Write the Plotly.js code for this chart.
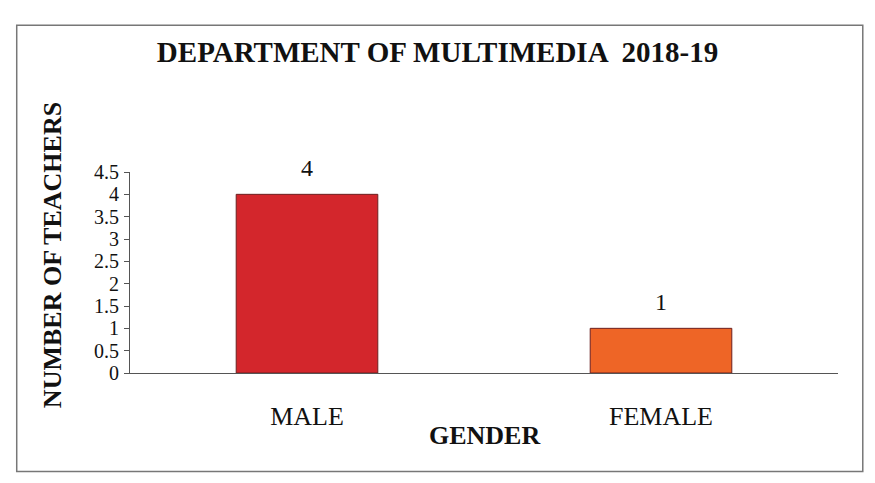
<!DOCTYPE html>
<html><head><meta charset="utf-8">
<script src="https://cdn.plot.ly/plotly-3.0.1.min.js"></script>
<style>html,body{margin:0;padding:0;background:#fff;}#chart{width:875px;height:483px;}</style>
</head><body><div id="chart"></div>
<script>
const categories = ["MALE", "FEMALE"];
const teachers = [4, 1];
const barColors = ["#d3262c", "#ee6526"];
const yTicks = [0, 0.5, 1, 1.5, 2, 2.5, 3, 3.5, 4, 4.5];

const serif = "Liberation Serif, Times New Roman, serif";
const data = [{
  type: "bar",
  x: categories,
  y: teachers,
  width: 0.4,
  marker: {color: barColors, line: {color: "#6b2020", width: 1}},
  hoverinfo: "skip"
}];

const valueLabels = categories.map((c, i) => ({
  text: String(teachers[i]), x: c, y: teachers[i], xref: "x", yref: "y",
  yshift: 26, showarrow: false, xanchor: "center", yanchor: "middle",
  font: {family: serif, size: 24, color: "#111"}
}));

const layout = {
  width: 875, height: 483,
  margin: {l: 130, r: 37, t: 172, b: 110},
  paper_bgcolor: "#fff", plot_bgcolor: "#fff",
  showlegend: false,
  title: {text: "<b>DEPARTMENT OF MULTIMEDIA  2018-19</b>", x: 0.5, xanchor: "center", xref: "container",
          y: 0.892, yanchor: "middle", font: {family: serif, size: 29, color: "#111"}},
  xaxis: {
    type: "category", range: [-0.5, 1.5],
    showline: true, linecolor: "#555", linewidth: 1,
    ticks: "", showgrid: false, zeroline: false,
    tickfont: {family: serif, size: 26, color: "#111"},
    ticklabelstandoff: 20
  },
  yaxis: {
    range: [0, 4.5], tickvals: yTicks, ticktext: yTicks.map(String),
    showline: true, linecolor: "#555", linewidth: 1,
    ticks: "outside", ticklen: 5, tickcolor: "#555",
    showgrid: false, zeroline: false,
    tickfont: {family: serif, size: 20, color: "#111"},
    ticklabelstandoff: 1
  },
  annotations: valueLabels.concat([
    {text: "<b>NUMBER OF TEACHERS</b>", xref: "paper", yref: "paper", x: -0.11, y: 0.587,
     xanchor: "center", yanchor: "middle", textangle: -90, showarrow: false,
     font: {family: serif, size: 26, color: "#111"}},
    {text: "<b>GENDER</b>", xref: "paper", yref: "paper", x: 0.5, y: -0.31,
     xanchor: "center", yanchor: "middle", showarrow: false,
     font: {family: serif, size: 26, color: "#111"}}
  ]),
  shapes: [
    {type: "rect", xref: "paper", yref: "paper", x0: -0.16, x1: 1.035, y0: -0.49, y1: 1.73,
     line: {color: "#777", width: 1.5}, fillcolor: "rgba(0,0,0,0)"}
  ]
};

Plotly.newPlot("chart", data, layout, {staticPlot: true, displayModeBar: false});
</script></body></html>
